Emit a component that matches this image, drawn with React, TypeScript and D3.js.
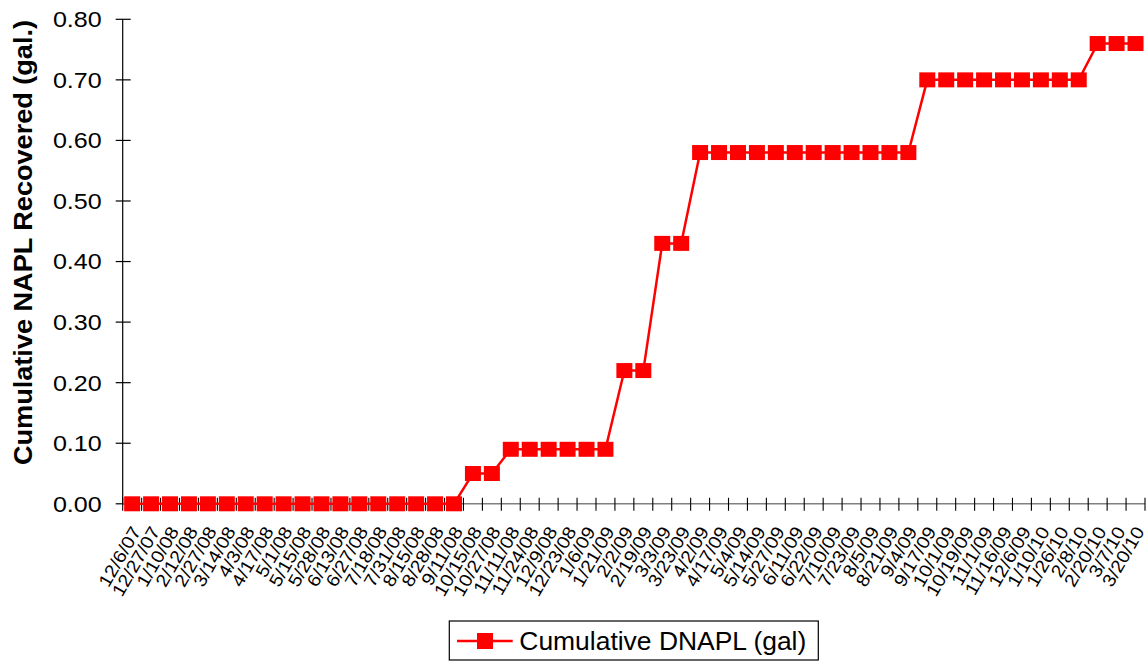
import React from "react";
import * as d3 from "d3";

const dates: string[] = [
  "12/6/07", "12/27/07", "1/10/08", "2/12/08", "2/27/08", "3/14/08", "4/3/08", "4/17/08",
  "5/1/08", "5/15/08", "5/28/08", "6/13/08", "6/27/08", "7/18/08", "7/31/08", "8/15/08",
  "8/28/08", "9/11/08", "10/15/08", "10/27/08", "11/11/08", "11/24/08", "12/9/08", "12/23/08",
  "1/6/09", "1/21/09", "2/2/09", "2/19/09", "3/3/09", "3/23/09", "4/2/09", "4/17/09",
  "5/4/09", "5/14/09", "5/27/09", "6/11/09", "6/22/09", "7/10/09", "7/23/09", "8/5/09",
  "8/21/09", "9/4/09", "9/17/09", "10/1/09", "10/19/09", "11/1/09", "11/16/09", "12/6/09",
  "1/10/10", "1/26/10", "2/8/10", "2/20/10", "3/7/10", "3/20/10",
];

const dnapl: number[] = [
  0, 0, 0, 0, 0, 0, 0, 0, 0, 0, 0, 0, 0, 0, 0, 0, 0, 0,
  0.05, 0.05,
  0.09, 0.09, 0.09, 0.09, 0.09, 0.09,
  0.22, 0.22,
  0.43, 0.43,
  0.58, 0.58, 0.58, 0.58, 0.58, 0.58, 0.58, 0.58, 0.58, 0.58, 0.58, 0.58,
  0.7, 0.7, 0.7, 0.7, 0.7, 0.7, 0.7, 0.7, 0.7,
  0.76, 0.76, 0.76,
];

const yTicks: number[] = [0, 0.1, 0.2, 0.3, 0.4, 0.5, 0.6, 0.7, 0.8];

const yTitle = "Cumulative NAPL Recovered (gal.)";
const seriesName = "Cumulative DNAPL (gal)";

const FONT = "'Liberation Sans', Arial, Helvetica, sans-serif";

export default function App() {
  const W = 1147;
  const H = 663;
  const left = 122.7;
  const right = 1145;
  const top = 19.3;
  const bottom = 503.8;

  const x = d3.scaleBand<string>().domain(dates).range([left, right]).paddingInner(0).paddingOuter(0);
  const y = d3.scaleLinear().domain([0, 0.8]).range([bottom, top]);
  const cx = (d: string) => (x(d) as number) + x.bandwidth() / 2;

  const line = d3
    .line<number>()
    .x((_, i) => cx(dates[i]))
    .y((v) => y(v));

  const boundaries = dates.map((d) => x(d) as number).concat([right]);
  const ms = 16;

  return (
    <svg
      width={W}
      height={H}
      style={{ position: "absolute", left: 0, top: 0, background: "#fff" }}
      fontFamily={FONT}
    >
      <rect x={0} y={0} width={W} height={H} fill="#fff" />
      {/* y axis */}
      <line x1={left} x2={left} y1={top} y2={bottom} stroke="#000" strokeWidth={1.2} />
      {yTicks.map((t) => (
        <g key={t}>
          <line x1={left - 7} x2={left + 8} y1={y(t)} y2={y(t)} stroke="#000" strokeWidth={1.2} />
          <text
            transform={`translate(${101.7},${y(t)}) scale(1.14,1)`}
            textAnchor="end"
            dy="0.36em"
            fontSize={22}
            fill="#000"
          >
            {t.toFixed(2)}
          </text>
        </g>
      ))}
      {/* x axis */}
      <line x1={left} x2={right} y1={bottom} y2={bottom} stroke="#808080" strokeWidth={1.5} />
      {boundaries.map((b, i) => (
        <line key={i} x1={b} x2={b} y1={bottom - 6} y2={bottom + 7} stroke="#000" strokeWidth={1.1} />
      ))}
      {dates.map((d) => (
        <text
          key={d}
          transform={`translate(${cx(d) + 4},${528}) rotate(-60) scale(1.1,1)`}
          textAnchor="end"
          dy="0.35em"
          fontSize={18}
          fill="#000"
        >
          {d}
        </text>
      ))}
      {/* y title */}
      <text
        transform={`translate(${32},${(20 + 465) / 2}) rotate(-90)`}
        textAnchor="middle"
        fontSize={25}
        fontWeight="bold"
        fill="#000"
        textLength={445}
        lengthAdjust="spacingAndGlyphs"
      >
        {yTitle}
      </text>
      {/* series */}
      <path d={line(dnapl) || ""} fill="none" stroke="#ff0000" strokeWidth={2.5} />
      {dnapl.map((v, i) => (
        <rect
          key={i}
          x={cx(dates[i]) - ms / 2}
          y={y(v) - 7.5}
          width={ms}
          height={15}
          fill="#ff0000"
        />
      ))}
      {/* legend */}
      <rect x={449.3} y={621} width={369} height={39} fill="#fff" stroke="#000" strokeWidth={1.2} />
      <line x1={457} x2={512.7} y1={641} y2={641} stroke="#ff0000" strokeWidth={2.5} />
      <rect x={477} y={633} width={16} height={16} fill="#ff0000" />
      <text
        x={519.3}
        y={641}
        dy="0.36em"
        fontSize={25}
        fill="#000"
        textLength={287}
        lengthAdjust="spacingAndGlyphs"
      >
        {seriesName}
      </text>
    </svg>
  );
}
